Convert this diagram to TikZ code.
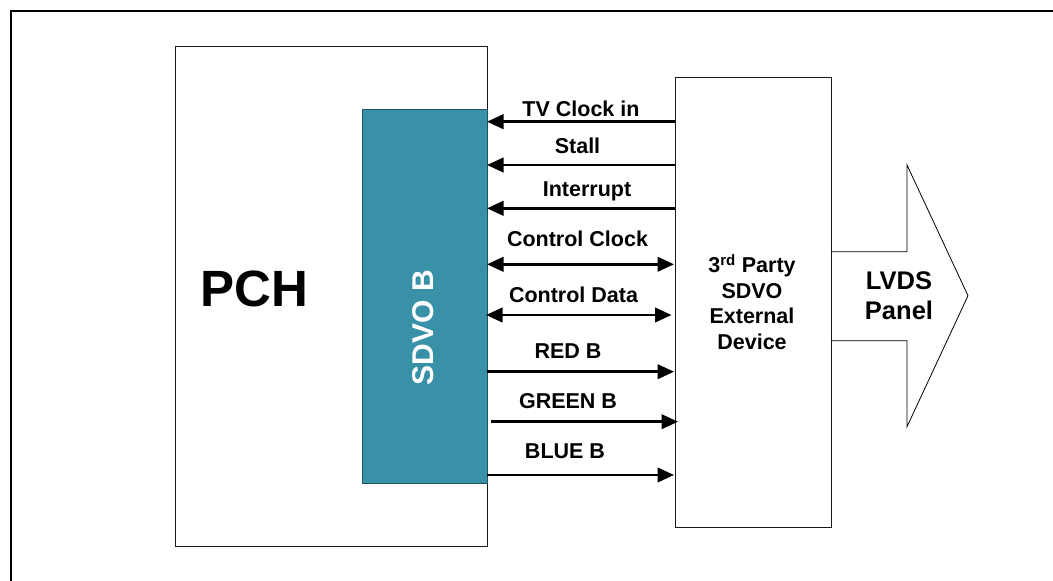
\documentclass[tikz,border=0pt]{standalone}
\usepackage{fontspec}
\setmainfont{Liberation Sans}
\usetikzlibrary{arrows.meta}
\definecolor{sdvofill}{HTML}{3891A7}
\definecolor{sdvoline}{HTML}{1E5563}
\begin{document}
\begin{tikzpicture}[x=1pt,y=-1pt,
  box/.style={draw=black!90, line width=1pt, fill=white, inner sep=0pt, outer sep=0pt},
  tipa/.tip={Triangle[length=16.5pt,width=14.5pt]},
  sig/.style={line width=2.5pt, -tipa},
  bisig/.style={line width=2.5pt, tipa-tipa},
  lab/.style={font=\fontsize{21.5}{25.7}\selectfont\bfseries, anchor=base, inner sep=0pt},
]
\useasboundingbox (0,0) rectangle (1053,581);
\begin{scope}
  \clip (0,0) rectangle (1053,581);
  \draw[line width=2pt] (11,11) rectangle (1080,610);
\end{scope}

% boxes
\node[box, minimum width=312pt, minimum height=500pt] (pch) at (331,296) {};
\node[font=\fontsize{51}{60}\selectfont\bfseries, anchor=base, inner sep=0pt] (pchlab) at (254,306) {PCH};
\node[draw=sdvoline, fill=sdvofill, line width=1pt, minimum width=125pt, minimum height=374pt, inner sep=0pt, outer sep=0pt] (sdvo) at (424.5,296) {};
\node[rotate=90, text=white, font=\fontsize{30}{36}\selectfont\bfseries, inner sep=0pt] (sdvolab) at (423.5,327.5) {SDVO B};
\node[box, minimum width=156pt, minimum height=450pt] (dev) at (753,302) {};
\node[align=center, font=\fontsize{21.5}{25.7}\selectfont\bfseries, inner sep=0pt] (devlab) at (752,302) {3\textsuperscript{rd} Party\\SDVO\\External\\Device};

% LVDS arrow
\draw[line width=0.8pt] (dev.east |- 0,251.7) -- (907,251.7) -- (907,165) -- (968,295.7) -- (907,426.7) -- (907,340.7) -- (dev.east |- 0,340.7);
\node[align=center, font=\fontsize{25.5}{30}\selectfont\bfseries, inner sep=0pt] (lvds) at (899,296) {LVDS\\Panel};

% signals
\draw[sig] (dev.west |- 0,121.7) -- (sdvo.east |- 0,121.7);
\draw[sig] (dev.west |- 0,165) -- (sdvo.east |- 0,165);
\draw[sig] (dev.west |- 0,208.3) -- (sdvo.east |- 0,208.3);
\draw[bisig] (sdvo.east |- 0,264.3) -- ([xshift=-1pt]dev.west |- 0,264.3);
\draw[bisig] ([xshift=-1pt]sdvo.east |- 0,315) -- ([xshift=-3.5pt]dev.west |- 0,315);
\draw[sig] (sdvo.east |- 0,371.7) -- ([xshift=-1pt]dev.west |- 0,371.7);
\draw[sig] ([xshift=3.5pt]sdvo.east |- 0,421.7) -- ([xshift=3pt]dev.west |- 0,421.7);
\draw[sig] (sdvo.east |- 0,475) -- ([xshift=-1pt]dev.west |- 0,475);

% labels
\node[lab] (l1) at (581,116) {TV Clock in};
\node[lab] (l2) at (577.5,153) {Stall};
\node[lab] (l3) at (587,196.7) {Interrupt};
\node[lab] (l4) at (577.5,246) {Control Clock};
\node[lab] (l5) at (573.5,302.7) {Control Data};
\node[lab] (l6) at (568,358) {RED B};
\node[lab] (l7) at (568,408) {GREEN B};
\node[lab] (l8) at (565,458) {BLUE B};
\end{tikzpicture}
\end{document}
